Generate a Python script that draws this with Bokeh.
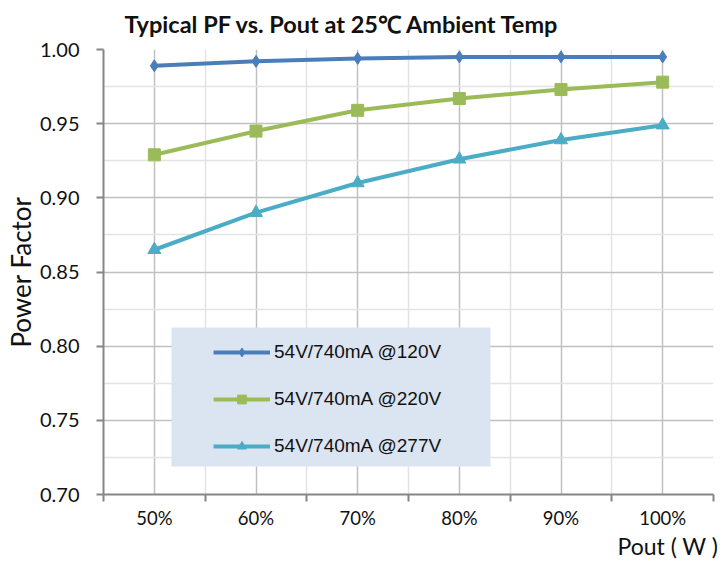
from bokeh.plotting import figure
from bokeh.models import FixedTicker, BoxAnnotation, Legend, LegendItem, NumeralTickFormatter, Title
from bokeh.embed import file_html
from bokeh.resources import INLINE

categories = ["50%", "60%", "70%", "80%", "90%", "100%"]
pf_120 = [0.989, 0.992, 0.994, 0.995, 0.995, 0.995]
pf_220 = [0.929, 0.945, 0.959, 0.967, 0.973, 0.978]
pf_277 = [0.865, 0.890, 0.910, 0.926, 0.939, 0.949]
series_names = ["54V/740mA @120V", "54V/740mA @220V", "54V/740mA @277V"]
y_ticks = [0.70, 0.75, 0.80, 0.85, 0.90, 0.95, 1.00]
y_minor = [0.725, 0.775, 0.825, 0.875, 0.925, 0.975]

x = list(range(1, len(categories) + 1))
x_bounds = [i + 0.5 for i in range(len(categories) + 1)]

p = figure(width=722, height=561,
           x_range=(0.5, len(categories) + 0.5), y_range=(0.70, 1.00),
           output_backend="svg", toolbar_location=None,
           min_border_left=103, min_border_right=9, min_border_top=49, min_border_bottom=67)
p.outline_line_color = None

p.title.text = "Typical PF vs. Pout at 25\u2103 Ambient Temp"
p.title.text_font = "Lato"
p.title.text_font_style = "bold"
p.title.text_font_size = "23.5px"
p.title.align = "left"
p.title.vertical_align = "top"
p.title.offset = 21
p.title.standoff = 19
p.title.text_color = "#111111"

# x axis
p.xaxis.ticker = FixedTicker(ticks=x, minor_ticks=x_bounds)
p.xaxis.major_label_overrides = {xi: c for xi, c in zip(x, categories)}
p.xaxis.major_tick_out = 0
p.xaxis.major_tick_in = 0
p.xaxis.minor_tick_out = 7
p.xaxis.minor_tick_in = 0
p.xaxis.minor_tick_line_color = "#868686"
p.xaxis.minor_tick_line_width = 2
p.xaxis.axis_line_color = "#868686"
p.xaxis.axis_line_width = 2
p.xaxis.major_label_text_font = "Lato"
p.xaxis.major_label_text_font_size = "18.5px"
p.xaxis.major_label_text_color = "#111111"
p.xaxis.major_label_standoff = 5

# y axis
p.yaxis.ticker = FixedTicker(ticks=y_ticks, minor_ticks=y_minor)
p.yaxis.formatter = NumeralTickFormatter(format="0.00")
p.yaxis.major_tick_out = 7
p.yaxis.major_tick_in = 0
p.yaxis.minor_tick_out = 0
p.yaxis.minor_tick_in = 0
p.yaxis.major_tick_line_color = "#868686"
p.yaxis.major_tick_line_width = 2
p.yaxis.axis_line_color = "#868686"
p.yaxis.axis_line_width = 2
p.yaxis.major_label_text_font = "Lato"
p.yaxis.major_label_text_font_size = "20px"
p.yaxis.major_label_text_color = "#111111"
p.yaxis.major_label_standoff = 17
p.yaxis.axis_label = "Power Factor"
p.yaxis.axis_label_text_font = "Lato"
p.yaxis.axis_label_text_font_style = "normal"
p.yaxis.axis_label_text_font_size = "26px"
p.yaxis.axis_label_text_color = "#111111"
p.yaxis.axis_label_standoff = 0

# x axis title, right-aligned below the axis
p.add_layout(Title(text="Pout ( W )", align="right", vertical_align="top",
                   text_font="Lato", text_font_size="23px", text_font_style="normal",
                   offset=-5, text_color="#111111", standoff=0), "below")

# grids
p.xgrid.grid_line_color = "#C0C0C0"
p.xgrid.grid_line_width = 1.5
p.xgrid.minor_grid_line_color = "#E3E3E3"
p.xgrid.minor_grid_line_width = 1.5
p.ygrid.grid_line_color = "#C0C0C0"
p.ygrid.grid_line_width = 1.5
p.ygrid.minor_grid_line_color = "#E3E3E3"
p.ygrid.minor_grid_line_width = 1.5

# legend background box
p.add_layout(BoxAnnotation(left=1.169, right=4.306, top=0.8126, bottom=0.7189,
                           fill_color="#DBE5F1", fill_alpha=1.0, line_color=None, level="annotation"))

colors = ["#4A7EBB", "#9BBB59", "#4BACC6"]
markers = ["diamond", "square", "triangle"]
sizes = [12, 12, 13]
series = [pf_120, pf_220, pf_277]

items = []
for name, vals, col, mk, sz in zip(series_names, series, colors, markers, sizes):
    ln = p.line(x, vals, line_color=col, line_width=4)
    sc = p.scatter(x, vals, marker=mk, size=sz, fill_color=col, line_color=col)
    items.append(LegendItem(label=name, renderers=[ln, sc]))

legend = Legend(items=items, location=(110, 37), orientation="vertical",
                background_fill_alpha=0, border_line_color=None,
                label_text_font="Liberation Sans", label_text_font_size="19px",
                label_text_color="#111111",
                glyph_width=57, glyph_height=22, label_height=22,
                spacing=25, padding=13, label_standoff=4)
p.add_layout(legend)

open("out.html", "w").write(file_html(p, INLINE))
